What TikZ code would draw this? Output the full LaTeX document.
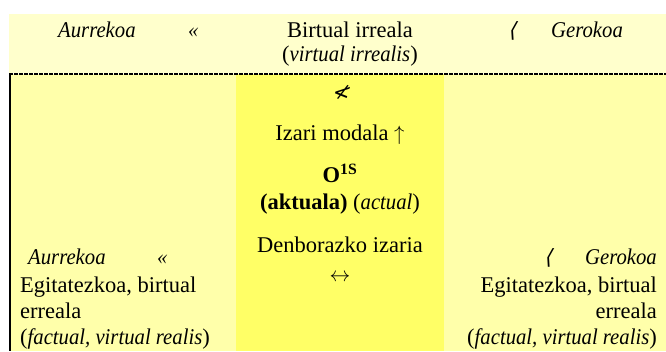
\documentclass[tikz,border=0pt]{standalone}
\usepackage{fontspec}
\setmainfont{Liberation Serif}[ItalicFeatures={FakeStretch=0.92}]
\newfontfamily\dvsans{DejaVu Sans}
\definecolor{topband}{RGB}{255,255,204}
\definecolor{sideband}{RGB}{255,255,170}
\definecolor{midband}{RGB}{255,255,102}
\begin{document}
\begin{tikzpicture}[x=1pt,y=-1pt,
  txt/.style={inner sep=0pt, font=\fontsize{22.5}{26}\selectfont},
  glyph/.style={inner sep=0pt, font=\dvsans\fontsize{21}{24}\selectfont}]
\useasboundingbox (0,0) rectangle (666,351);
% bands
\fill[topband] (9,14) rectangle (666,73);
\fill[sideband] (9,74) rectangle (666,351);
\fill[midband] (236,74) rectangle (444,351);
\draw[dash pattern=on 3.5pt off 1.5pt, line width=2pt] (9,73.5) -- (666,73.5);
\draw[line width=2pt] (10,74) -- (10,351);
% top band
\node[txt, anchor=base west] (tl) at (58,37) {\textit{Aurrekoa}};
\node[txt, anchor=base west] (tlq) at (188,37) {\textit{«}};
\node[txt, anchor=base] (tc1) at (350,37) {Birtual irreala};
\node[txt, anchor=base] (tc2) at (350,61) {(\textit{virtual irrealis})};
\node[glyph, anchor=base, xslant=0.25] (trq) at (512,37) {⟨};
\node[txt, anchor=base west] (tr) at (551,37) {\textit{Gerokoa}};
% middle column
\node[glyph, anchor=center, xslant=0.3] (mg) at (342,92) {≮};
\node[txt, anchor=base] (m1) at (340,140) {Izari modala $\uparrow$};
\node[txt, anchor=base] (m2) at (340,182) {\textbf{O\textsuperscript{1S}}};
\node[txt, anchor=base] (m3) at (340,209) {\textbf{(aktuala)} (\textit{actual})};
\node[txt, anchor=base] (m4) at (340,252) {Denborazko izaria};
\node[txt, anchor=base] (m5) at (340,281) {$\leftrightarrow$};
% left column
\node[txt, anchor=base west] (l0) at (28,264) {\textit{Aurrekoa}};
\node[txt, anchor=base west] (l0q) at (157,264) {\textit{«}};
\node[txt, anchor=base west] (l1) at (20,292) {Egitatezkoa, birtual};
\node[txt, anchor=base west] (l2) at (20,318) {erreala};
\node[txt, anchor=base west] (l3) at (20,344) {(\textit{factual, virtual realis})};
% right column
\node[glyph, anchor=base, xslant=0.25] (r0q) at (548,264) {⟨};
\node[txt, anchor=base east] (r0) at (657,264) {\textit{Gerokoa}};
\node[txt, anchor=base east] (r1) at (657,292) {Egitatezkoa, birtual};
\node[txt, anchor=base east] (r2) at (657,318) {erreala};
\node[txt, anchor=base east] (r3) at (657,344) {(\textit{factual, virtual realis})};
\end{tikzpicture}
\end{document}
